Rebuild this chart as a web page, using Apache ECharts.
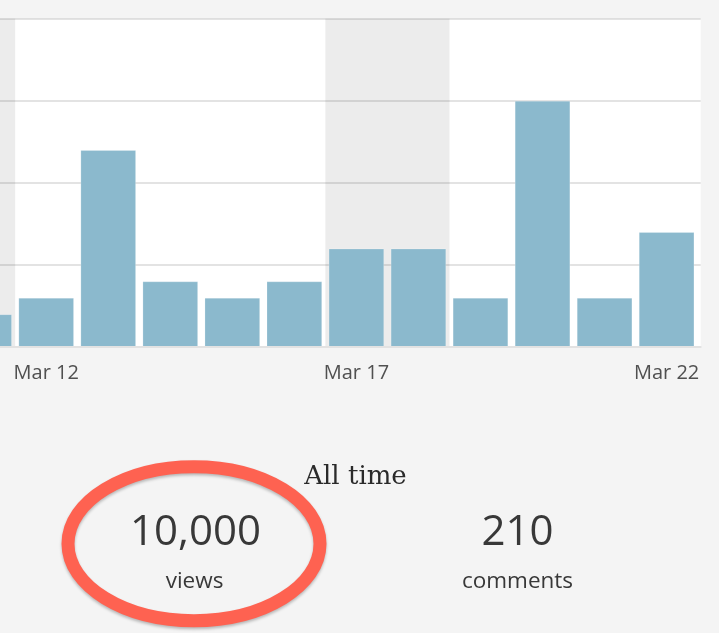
<!DOCTYPE html>
<html>
<head>
<meta charset="utf-8">
<script src="https://cdn.jsdelivr.net/npm/echarts@6/dist/echarts.min.js"></script>
<style>
  html, body { margin: 0; padding: 0; background: #f4f4f4; }
  #chart { width: 719px; height: 633px; }
</style>
</head>
<body>
<div id="chart"></div>
<script>
// ---- data ----
const days = [11, 12, 13, 14, 15, 16, 17, 18, 19, 20, 21, 22];          // March day numbers
const views = [2, 3, 12, 4, 3, 4, 6, 6, 3, 15, 3, 7];                     // daily views
const weekendStart = [10.5, 16.5];                                        // weekend shading (day coordinates)
const weekendEnd = [11.5, 18.5];
const tickDays = [12, 17, 22];
const tickLabels = ['Mar 12', 'Mar 17', 'Mar 22'];
const yMax = 20;
const yInterval = 5;
const heading = 'All time';
const statValues = ['10,000', '210'];
const statNames = ['views', 'comments'];

// ---- chart ----
const chart = echarts.init(document.getElementById('chart'), null, { renderer: 'canvas' });

const barData = days.map((d, i) => [d, views[i]]);
const bandData = weekendStart.map((s, i) => [s, weekendEnd[i]]);

const sans = '"Open Sans", "DejaVu Sans", sans-serif';

const option = {
  backgroundColor: '#f4f4f4',
  animation: false,
  grid: {
    left: 0, right: 18.3, top: 18.5, bottom: 286,
    show: true, backgroundColor: '#ffffff', borderWidth: 0
  },
  xAxis: {
    type: 'value',
    min: 11.2553, max: 22.5497,
    z: 4,
    axisLine: { show: true, onZero: false, lineStyle: { color: '#e2e2e2', width: 2 } },
    axisTick: { show: false },
    splitLine: { show: false },
    axisLabel: {
      customValues: tickDays,
      formatter: v => tickLabels[tickDays.indexOf(Math.round(v))] || '',
      color: '#505050', fontFamily: sans, fontSize: 20, margin: 16
    }
  },
  yAxis: {
    type: 'value', min: 0, max: yMax, interval: yInterval,
    z: 2,
    axisLine: { show: false }, axisTick: { show: false }, axisLabel: { show: false },
    splitLine: { show: true, lineStyle: { color: 'rgba(0,0,0,0.11)', width: 2 } }
  },
  series: [
    {
      type: 'custom',
      z: 1,
      silent: true,
      data: bandData,
      encode: { x: [0, 1] },
      renderItem: function (params, api) {
        const p0 = api.coord([api.value(0), yMax]);
        const p1 = api.coord([api.value(1), 0]);
        const rect = echarts.graphic.clipRectByRect(
          { x: p0[0], y: p0[1], width: p1[0] - p0[0], height: p1[1] - p0[1] },
          { x: params.coordSys.x, y: params.coordSys.y, width: params.coordSys.width, height: params.coordSys.height }
        );
        return rect && { type: 'rect', shape: rect, style: { fill: '#ececec' } };
      }
    },
    {
      type: 'bar',
      z: 3,
      data: barData,
      barWidth: 55.7,
      clip: true,
      itemStyle: { color: '#8bb9cd', borderColor: 'rgba(255,255,255,0.2)', borderWidth: 1 }
    }
  ],
  graphic: [
    {
      type: 'ellipse',
      shape: { cx: 194, cy: 543.7, rx: 126, ry: 77 },
      style: {
        fill: 'none', stroke: '#fe6251', lineWidth: 13,
        shadowColor: 'rgba(0,0,0,0.25)', shadowBlur: 3, shadowOffsetY: 2
      },
      z: 10
    },
    {
      type: 'text', x: 355.5, y: 477,
      style: { text: heading, font: '26px "DejaVu Serif", serif', fill: '#2a2a2a', align: 'center', verticalAlign: 'middle' },
      z: 11
    },
    {
      type: 'text', x: 195.5, y: 533,
      style: { text: statValues[0], font: '42px ' + sans, fill: '#383838', align: 'center', verticalAlign: 'middle' },
      z: 11
    },
    {
      type: 'text', x: 194.5, y: 581.5,
      style: { text: statNames[0], font: '22.5px ' + sans, fill: '#383838', align: 'center', verticalAlign: 'middle' },
      z: 11
    },
    {
      type: 'text', x: 517.5, y: 533,
      style: { text: statValues[1], font: '42px ' + sans, fill: '#383838', align: 'center', verticalAlign: 'middle' },
      z: 11
    },
    {
      type: 'text', x: 517.5, y: 581.5,
      style: { text: statNames[1], font: '22.5px ' + sans, fill: '#383838', align: 'center', verticalAlign: 'middle' },
      z: 11
    }
  ]
};

chart.setOption(option);
</script>
</body>
</html>
